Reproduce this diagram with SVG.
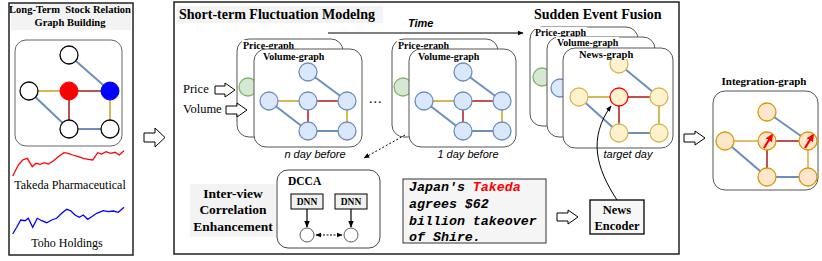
<svg xmlns="http://www.w3.org/2000/svg" xmlns:xlink="http://www.w3.org/1999/xlink" width="822" height="261" viewBox="0 0 822 261">
<style>
.sb{font-family:"Liberation Serif","Times New Roman",serif;font-weight:bold;fill:#000}
.sr{font-family:"Liberation Serif","Times New Roman",serif;fill:#000}
.it{font-family:"Liberation Sans",Arial,sans-serif;font-style:italic;fill:#000}
.mono{font-family:"Liberation Mono","Courier New",monospace;font-weight:bold;font-style:italic;font-size:13.3px;fill:#000}
.card{fill:#fff;stroke:#555;stroke-width:1}
.panel{fill:#fff;stroke:#222;stroke-width:1.5}
.eb{stroke:#6c8ebf;stroke-width:2;fill:none}
.eg{stroke:#d6b656;stroke-width:2;fill:none}
.er{stroke:#c84f4f;stroke-width:2;fill:none}
.nb{fill:#dae8fc;stroke:#6c8ebf;stroke-width:1.3}
.ng{fill:#d5e8d4;stroke:#82b366;stroke-width:1.3}
.ny{fill:#fff2cc;stroke:#d6b656;stroke-width:1.3}
.no{fill:#ffe6cc;stroke:#d79b00;stroke-width:1.3}
.nw{fill:#fff;stroke:#000;stroke-width:1.3}
.hollow{fill:#fff;stroke:#000;stroke-width:1}
.lbg{fill:#fff}
.gbg{fill:#f3f3f3}
</style>
<defs>
<marker id="ah" viewBox="0 0 10 10" refX="9" refY="5" markerWidth="6" markerHeight="6" orient="auto-start-reverse">
<path d="M0,1 L10,5 L0,9 Z" fill="#000"/>
</marker>
<marker id="ahr" viewBox="0 0 10 10" refX="8" refY="5" markerWidth="3.5" markerHeight="3.5" orient="auto">
<path d="M0,0 L10,5 L0,10 Z" fill="#f00"/>
</marker>
<g id="vgraph">
<line class="eb" x1="308" y1="72" x2="347" y2="101"/>
<line class="eg" x1="269" y1="101" x2="308" y2="101"/>
<line class="er" x1="308" y1="101" x2="347" y2="101"/>
<line class="er" x1="308" y1="101" x2="308" y2="131"/>
<line class="eg" x1="347" y1="101" x2="347" y2="131"/>
<line class="eb" x1="269" y1="101" x2="308" y2="131"/>
<line class="eb" x1="308" y1="131" x2="347" y2="131"/>
<circle class="nb" cx="308" cy="72" r="9"/>
<circle class="nb" cx="269" cy="101" r="9"/>
<circle class="nb" cx="308" cy="101" r="9"/>
<circle class="nb" cx="347" cy="101" r="9"/>
<circle class="nb" cx="308" cy="131" r="9"/>
<circle class="nb" cx="347" cy="131" r="9"/>
</g>
</defs>

<!-- Left panel -->
<g id="left-panel">
<rect class="panel" x="9" y="3" width="124" height="252"/>
<rect class="gbg" x="11" y="4" width="120" height="26"/>
<text class="sb" x="70" y="13" font-size="10.5" text-anchor="middle" style="white-space:pre">Long-Term  Stock Relation</text>
<text class="sb" x="70" y="26" font-size="10.5" text-anchor="middle">Graph Building</text>
<rect x="15" y="40" width="107" height="106" rx="11" fill="#fff" stroke="#666" stroke-width="1"/>
<line x1="69" y1="55" x2="110" y2="91" stroke="#6c8ebf" stroke-width="2"/>
<line x1="29" y1="91" x2="69" y2="91" stroke="#d6b656" stroke-width="2"/>
<line x1="69" y1="91" x2="110" y2="91" stroke="#b85450" stroke-width="2"/>
<line x1="69" y1="91" x2="69" y2="129" stroke="#b85450" stroke-width="2"/>
<line x1="110" y1="91" x2="110" y2="129" stroke="#d6b656" stroke-width="2"/>
<line x1="29" y1="91" x2="69" y2="129" stroke="#6c8ebf" stroke-width="2"/>
<line x1="69" y1="129" x2="110" y2="129" stroke="#6c8ebf" stroke-width="2"/>
<circle class="nw" cx="69" cy="55" r="9"/>
<circle class="nw" cx="29" cy="91" r="9"/>
<circle cx="69" cy="91" r="9" fill="#f00" stroke="#f00"/>
<circle cx="110" cy="91" r="9" fill="#00f" stroke="#00f"/>
<circle class="nw" cx="69" cy="129" r="9"/>
<circle class="nw" cx="110" cy="129" r="9"/>
<polyline fill="none" stroke="#f00" stroke-width="1.3" points="12.7,176 18.3,165 22.7,160 27.3,158.3 32.3,166.7 36,163.3 40,164.3 44.3,162.7 48.3,164 53.3,161 58.3,156.7 64,152.7 68.3,153.3 72.7,155 78.3,156.7 83.3,158.3 88.3,159.3 92.7,160 97.7,152.7 101.7,154 106,151.7 110.7,153.3 115,152.3 119.3,155 124,150.7"/>
<text class="sr" x="70" y="189" font-size="12" text-anchor="middle">Takeda Pharmaceutical</text>
<polyline fill="none" stroke="#00f" stroke-width="1.3" points="12.7,234 16.7,227.3 20.7,220 25,220.7 28.3,218.3 32.7,227.3 37.3,218.3 41.7,220.7 46.7,222.7 51.7,220 56.7,218.3 61.7,213.3 66.7,209.3 70.7,210.7 75,215 79.3,217.3 83.3,215 87.7,219.3 91.7,216.7 96.7,213.3 103.3,210.7 108.3,211.7 113.3,211 118.3,212.3 124,207.3"/>
<text class="sr" x="67" y="247" font-size="12" text-anchor="middle">Toho Holdings</text>
</g>

<!-- Main panel -->
<g id="main-panel">
<rect class="panel" x="174" y="2" width="505" height="252"/>
<rect class="gbg" x="177" y="6" width="206" height="17"/>
<text class="sb" x="179" y="19" font-size="14">Short-term Fluctuation Modelng</text>
<text class="sb" x="534" y="19" font-size="14">Sudden Event Fusion</text>
<text class="it" x="408" y="27" font-size="11" font-weight="bold">Time</text>
<text class="sr" x="183" y="93" font-size="12.5">Price</text>
<text class="sr" x="183" y="113" font-size="12.5">Volume</text>
<text class="sr" x="369" y="103" font-size="14" letter-spacing="1">...</text>
</g>

<g id="n-day">
<rect class="card" x="237" y="39" width="106" height="98" rx="12"/>
<circle class="ng" cx="248" cy="87" r="9"/>
<rect class="lbg" x="242" y="40" width="52" height="10"/>
<text class="sb" x="243" y="48.5" font-size="10">Price-graph</text>
<rect class="card" x="254" y="49" width="108" height="98" rx="12"/>
<text class="sb" x="263" y="59.5" font-size="10">Volume-graph</text>
<use xlink:href="#vgraph"/>
<text class="it" x="315" y="158" font-size="11" text-anchor="middle">n day before</text>
</g>

<g id="one-day">
<rect class="card" x="392" y="39" width="106" height="98" rx="12"/>
<circle class="ng" cx="403" cy="87" r="9"/>
<rect class="lbg" x="397" y="40" width="52" height="10"/>
<text class="sb" x="398" y="48.5" font-size="10">Price-graph</text>
<rect class="card" x="409" y="49" width="107" height="98" rx="12"/>
<text class="sb" x="418" y="59.5" font-size="10">Volume-graph</text>
<use xlink:href="#vgraph" x="155"/>
<text class="it" x="468" y="158" font-size="11" text-anchor="middle">1 day before</text>
</g>

<g id="target-day">
<rect class="card" x="530" y="27" width="108" height="99" rx="12"/>
<circle class="ng" cx="542" cy="77" r="9"/>
<rect class="lbg" x="535" y="27" width="52" height="10"/>
<text class="sb" x="535" y="35.5" font-size="10">Price-graph</text>
<rect class="card" x="547" y="37" width="108" height="100" rx="12"/>
<circle class="nb" cx="560" cy="88" r="9"/>
<rect class="lbg" x="556" y="37" width="63" height="10"/>
<text class="sb" x="557" y="45.5" font-size="10">Volume-graph</text>
<rect class="card" x="563" y="48" width="110" height="100" rx="12"/>
<line class="eb" x1="619" y1="64" x2="659" y2="97"/>
<line class="eg" x1="579" y1="97" x2="619" y2="97"/>
<line class="er" x1="619" y1="97" x2="659" y2="97"/>
<line class="er" x1="619" y1="97" x2="619" y2="133"/>
<line class="eg" x1="659" y1="97" x2="659" y2="133"/>
<line class="eb" x1="579" y1="97" x2="619" y2="133"/>
<line class="eb" x1="619" y1="133" x2="659" y2="133"/>
<circle class="ny" cx="619" cy="64" r="9"/>
<rect class="lbg" x="578" y="50" width="57" height="9"/>
<text class="sb" x="579" y="58" font-size="10.5">News-graph</text>
<circle class="ny" cx="579" cy="97" r="9"/>
<circle cx="619" cy="97" r="9" fill="#fff2cc" stroke="#f00" stroke-width="1.3"/>
<circle class="ny" cx="659" cy="97" r="9"/>
<circle class="ny" cx="619" cy="133" r="9"/>
<circle class="ny" cx="659" cy="133" r="9"/>
<text class="it" x="628" y="158" font-size="11" text-anchor="middle">target day</text>
</g>

<g id="inter-view">
<rect class="gbg" x="190" y="184" width="86" height="53"/>
<text class="sb" x="233" y="198" font-size="13.5" text-anchor="middle">Inter-view</text>
<text class="sb" x="233" y="214" font-size="13.5" text-anchor="middle">Correlation</text>
<text class="sb" x="233" y="231" font-size="13.5" text-anchor="middle">Enhancement</text>
</g>

<g id="dcca">
<rect x="277" y="170" width="103" height="78" rx="11" fill="#fff" stroke="#444" stroke-width="1"/>
<text class="sb" x="288" y="185" font-size="11.5">DCCA</text>
<rect x="291" y="194" width="32" height="15" fill="#f0f0f0" stroke="#000" stroke-width="1"/>
<text class="sb" x="307" y="205" font-size="9.5" text-anchor="middle">DNN</text>
<rect x="335" y="194" width="32" height="15" fill="#f0f0f0" stroke="#000" stroke-width="1"/>
<text class="sb" x="351" y="205" font-size="9.5" text-anchor="middle">DNN</text>
<circle cx="307" cy="235" r="7" fill="#fff" stroke="#333" stroke-width="0.8"/>
<circle cx="351" cy="235" r="7" fill="#fff" stroke="#333" stroke-width="0.8"/>
</g>

<g id="news-text">
<rect x="403" y="179" width="143" height="64" fill="#f5f5f5" stroke="#333" stroke-width="1"/>
<text class="mono" x="409" y="191">Japan's <tspan fill="#f00">Takeda</tspan></text>
<text class="mono" x="409" y="208">agrees $62</text>
<text class="mono" x="409" y="225">billion takeover</text>
<text class="mono" x="409" y="241">of Shire.</text>
</g>

<g id="news-encoder">
<rect x="590" y="200" width="54" height="34" fill="#f7f7f7" stroke="#000" stroke-width="1.3"/>
<text class="sb" x="617" y="214" font-size="12.5" text-anchor="middle">News</text>
<text class="sb" x="617" y="230" font-size="12.5" text-anchor="middle">Encoder</text>
</g>

<g id="integration-graph">
<text class="sb" x="764" y="85" font-size="11" text-anchor="middle">Integration-graph</text>
<rect x="713" y="91" width="105" height="99" rx="12" fill="#fff" stroke="#555" stroke-width="1"/>
<line x1="767" y1="112" x2="808" y2="141" stroke="#6c8ebf" stroke-width="2"/>
<line x1="725" y1="141" x2="767" y2="141" stroke="#e0c070" stroke-width="2"/>
<line x1="767" y1="141" x2="808" y2="141" stroke="#b85450" stroke-width="2"/>
<line x1="767" y1="141" x2="767" y2="177" stroke="#b85450" stroke-width="2"/>
<line x1="808" y1="141" x2="808" y2="177" stroke="#e0c070" stroke-width="2"/>
<line x1="725" y1="141" x2="767" y2="177" stroke="#6c8ebf" stroke-width="2"/>
<line x1="767" y1="177" x2="808" y2="177" stroke="#6c8ebf" stroke-width="2"/>
<circle class="no" cx="767" cy="112" r="9"/>
<circle class="no" cx="725" cy="141" r="9"/>
<circle class="no" cx="767" cy="141" r="9"/>
<circle class="no" cx="808" cy="141" r="9"/>
<circle class="no" cx="767" cy="177" r="9"/>
<circle class="no" cx="808" cy="177" r="9"/>
<line x1="764" y1="148" x2="772" y2="135" stroke="#f00" stroke-width="2.2" marker-end="url(#ahr)"/>
<line x1="805" y1="148" x2="813" y2="135" stroke="#f00" stroke-width="2.2" marker-end="url(#ahr)"/>
</g>

<g id="connectors">
<line x1="328" y1="33" x2="523" y2="33" stroke="#000" stroke-width="1" marker-end="url(#ah)"/>
<line x1="405" y1="135" x2="364" y2="158" stroke="#000" stroke-width="1" stroke-dasharray="2,2" marker-end="url(#ah)"/>
<path d="M617,200 C596,168 588,138 611,106" fill="none" stroke="#000" stroke-width="1" marker-end="url(#ah)"/>
<line x1="307" y1="209" x2="307" y2="227" stroke="#000" stroke-width="1.2" marker-end="url(#ah)"/>
<line x1="351" y1="209" x2="351" y2="227" stroke="#000" stroke-width="1.2" marker-end="url(#ah)"/>
<line x1="316" y1="235" x2="342" y2="235" stroke="#000" stroke-width="1" stroke-dasharray="2,1.5" marker-start="url(#ah)" marker-end="url(#ah)"/>
<path class="hollow" d="M144,133 H155 V128 L165,137.5 L155,147 V142 H144 Z"/>
<path class="hollow" d="M215,86 H225 V83 L235,90 L225,97 V94 H215 Z"/>
<path class="hollow" d="M226,106 H237 V103 L247,110 L237,117 V114 H226 Z"/>
<path class="hollow" d="M557,213 H568 V210 L578,217 L568,224 V221 H557 Z"/>
<path class="hollow" d="M684,134 H695 V131 L705,138 L695,145 V142 H684 Z"/>
</g>
</svg>
